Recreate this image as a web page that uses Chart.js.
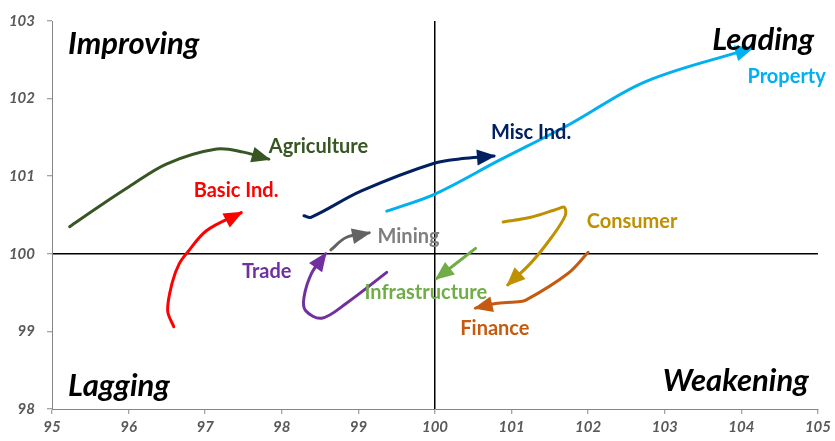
<!DOCTYPE html>
<html>
<head>
<meta charset="utf-8">
<script src="https://cdn.jsdelivr.net/npm/chart.js@4"></script>
<style>
  html, body { margin: 0; padding: 0; background: #fff; }
  #wrap { width: 835px; height: 441px; }
</style>
</head>
<body>
<div id="wrap"><canvas id="rrg" width="835" height="441"></canvas></div>
<script>
// 坐标轴刻度
const xTicks = [95, 96, 97, 98, 99, 100, 101, 102, 103, 104, 105];
const yTicks = [98, 99, 100, 101, 102, 103];

// 各板块轨迹 (相对强度 x, 动量 y)
const agricultureX = [95.23, 95.6, 96.0, 96.5, 97.15, 97.5, 97.83];
const agricultureY = [100.35, 100.6, 100.86, 101.16, 101.35, 101.31, 101.22];

const basicIndX = [96.59, 96.51, 96.57, 96.66, 96.77, 97.02, 97.47];
const basicIndY = [99.06, 99.27, 99.63, 99.87, 100.02, 100.3, 100.53];

const miscIndX = [98.29, 98.38, 99.04, 100.0, 100.4, 100.77];
const miscIndY = [100.49, 100.47, 100.81, 101.17, 101.23, 101.26];

const propertyX = [99.37, 100.0, 100.83, 101.76, 102.75, 104.14];
const propertyY = [100.55, 100.77, 101.2, 101.67, 102.22, 102.65];

const miningX = [98.64, 98.84, 99.14];
const miningY = [100.05, 100.21, 100.27];

const tradeX = [99.37, 98.84, 98.52, 98.31, 98.29, 98.39, 98.57];
const tradeY = [99.76, 99.36, 99.17, 99.27, 99.44, 99.75, 100.0];

const infraX = [100.53, 100.02];
const infraY = [100.07, 99.68];

const consumerX = [100.89, 101.25, 101.61, 101.69, 101.7, 101.52, 101.25, 100.95];
const consumerY = [100.41, 100.47, 100.58, 100.6, 100.49, 100.21, 99.88, 99.6];

const financeX = [102.0, 101.74, 101.18, 101.05, 100.79, 100.53];
const financeY = [100.02, 99.75, 99.4, 99.38, 99.36, 99.3];

const sectorNames = ['Agriculture', 'Basic Ind.', 'Misc Ind.', 'Property', 'Mining',
                     'Trade', 'Infrastructure', 'Consumer', 'Finance'];

// 样式和标签位置 (数据坐标)
const sectorStyle = [
  { xs: agricultureX, ys: agricultureY, line: '#375623', text: '#375623', lx: 97.83, ly: 101.38 },
  { xs: basicIndX,    ys: basicIndY,    line: '#FF0000', text: '#FF0000', lx: 96.85, ly: 100.81 },
  { xs: miscIndX,     ys: miscIndY,     line: '#002060', text: '#002060', lx: 100.73, ly: 101.56 },
  { xs: propertyX,    ys: propertyY,    line: '#00B0F0', text: '#00B0F0', lx: 104.08, ly: 102.28 },
  { xs: miningX,      ys: miningY,      line: '#636363', text: '#7F7F7F', lx: 99.25, ly: 100.22 },
  { xs: tradeX,       ys: tradeY,       line: '#7030A0', text: '#7030A0', lx: 97.48, ly: 99.77 },
  { xs: infraX,       ys: infraY,       line: '#70AD47', text: '#70AD47', lx: 99.08, ly: 99.5 },
  { xs: consumerX,    ys: consumerY,    line: '#BF9000', text: '#BF9000', lx: 101.98, ly: 100.41 },
  { xs: financeX,     ys: financeY,     line: '#C55A11', text: '#C55A11', lx: 100.33, ly: 99.04 }
];

const quadrants = [
  { text: 'Improving', x: 95.21, y: 102.71, align: 'left' },
  { text: 'Leading',   x: 104.95, y: 102.76, align: 'right' },
  { text: 'Lagging',   x: 95.21, y: 98.29, align: 'left' },
  { text: 'Weakening', x: 104.88, y: 98.36, align: 'right' }
];

const FONT = 'Lato, "Liberation Sans", sans-serif';

// 箭头 + 文字标签
const arrowPlugin = {
  id: 'arrows',
  afterDatasetsDraw(chart) {
    const ctx = chart.ctx;
    chart.data.datasets.forEach((ds, i) => {
      const meta = chart.getDatasetMeta(i);
      const pts = meta.data;
      const tip = pts[pts.length - 1];
      let fx = tip.cp1x, fy = tip.cp1y;
      if (fx === undefined || Math.hypot(tip.x - fx, tip.y - fy) < 1) {
        fx = pts[pts.length - 2].x;
        fy = pts[pts.length - 2].y;
      }
      const ang = Math.atan2(tip.y - fy, tip.x - fx);
      const len = 17, half = 8;
      ctx.save();
      ctx.translate(tip.x, tip.y);
      ctx.rotate(ang);
      ctx.beginPath();
      ctx.moveTo(2, 0);
      ctx.lineTo(-len, -half);
      ctx.lineTo(-len, half);
      ctx.closePath();
      ctx.fillStyle = ds.borderColor;
      ctx.fill();
      ctx.restore();
    });

    const xs = chart.scales.x, ys = chart.scales.y;
    ctx.save();
    ctx.textBaseline = 'middle';
    ctx.font = 'bold 20px ' + FONT;
    ctx.textAlign = 'left';
    sectorStyle.forEach((s, i) => {
      ctx.fillStyle = s.text;
      ctx.fillText(sectorNames[i], xs.getPixelForValue(s.lx), ys.getPixelForValue(s.ly));
    });
    ctx.font = 'italic bold 31px ' + FONT;
    ctx.fillStyle = '#000';
    quadrants.forEach(q => {
      ctx.textAlign = q.align;
      ctx.fillText(q.text, xs.getPixelForValue(q.x), ys.getPixelForValue(q.y));
    });
    ctx.restore();
  }
};

const datasets = sectorStyle.map((s, i) => ({
  label: sectorNames[i],
  data: s.xs.map((x, k) => ({ x: x, y: s.ys[k] })),
  showLine: true,
  borderColor: s.line,
  backgroundColor: s.line,
  borderWidth: 3,
  tension: 0.35,
  pointRadius: 0,
  borderCapStyle: 'round'
}));

const crossColor = ctx => (ctx.tick && ctx.tick.value === 100) ? '#000000' : 'rgba(0,0,0,0)';
const tickFont = { family: FONT, size: 15, weight: 'bold', style: 'italic' };

new Chart(document.getElementById('rrg'), {
  type: 'scatter',
  data: { datasets: datasets },
  options: {
    responsive: false,
    animation: false,
    layout: { padding: { top: 19, right: 14, left: 0, bottom: 0 } },
    plugins: { legend: { display: false }, tooltip: { enabled: false } },
    scales: {
      x: {
        type: 'linear', min: 95, max: 105,
        afterBuildTicks: a => { a.ticks = xTicks.map(v => ({ value: v })); },
        afterFit: a => { a.height = 32; },
        ticks: { color: '#595959', font: tickFont, padding: 4, maxRotation: 0 },
        grid: { color: crossColor, lineWidth: 1.5, tickLength: 5, tickColor: '#868686', tickWidth: 1 },
        border: { color: '#868686', width: 1 }
      },
      y: {
        type: 'linear', min: 98, max: 103,
        afterBuildTicks: a => { a.ticks = yTicks.map(v => ({ value: v })); },
        afterFit: a => { a.width = 52; },
        ticks: { color: '#595959', font: tickFont, padding: 12 },
        grid: { color: crossColor, lineWidth: 1.5, tickLength: 5, tickColor: '#868686', tickWidth: 1 },
        border: { color: '#868686', width: 1 }
      }
    }
  },
  plugins: [arrowPlugin]
});
</script>
</body>
</html>
